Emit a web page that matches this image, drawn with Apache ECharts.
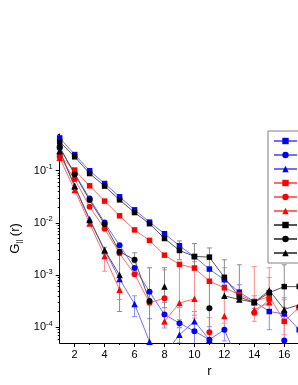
<!DOCTYPE html>
<html><head><meta charset="utf-8">
<script src="https://cdn.jsdelivr.net/npm/echarts@6/dist/echarts.min.js"></script>
<style>html,body{margin:0;padding:0;background:#fff}#c{width:298px;height:385px}</style>
</head><body><div id="c"></div>
<script>
// ---- data ----
const rVals = [1,2,3,4,5,6,7,8,9,10,11,12,13,14,15,16,17];
const xTickVals = [2,4,6,8,10,12,14,16,18,20];
const xMinorVals = [3,5,7,9,11,13,15,17,19];
const yTickVals = [1e-4,1e-3,1e-2,1e-1];
const yMinorVals = [6e-5,7e-5,8e-5,9e-5,2e-4,3e-4,4e-4,5e-4,6e-4,7e-4,8e-4,9e-4,2e-3,3e-3,4e-3,5e-3,6e-3,7e-3,8e-3,9e-3,2e-2,3e-2,4e-2,5e-2,6e-2,7e-2,8e-2,9e-2,0.2,0.3,0.4,0.5];
const seriesNames = ['A, L=16','A, L=32','A, L=64','B, L=16','B, L=32','B, L=64','C, L=16','C, L=32','C, L=64'];

const blueSq = [0.42,0.202,0.099,0.0564,0.0314,0.0177,0.0103,0.00616,0.00363,0.00224,0.0013,8.1e-4,4.7e-4,3.1e-4,2.0e-4,1.8e-4,9e-5];
const blueCi = [0.27,0.088,0.0292,0.0101,0.0037,0.00136,4.8e-4,1.75e-4,1.2e-4,8.4e-5,5.8e-5,9.0e-5,2e-5,2e-5,2e-5,5.6e-5,null];
const blueTr = [0.24,0.0488,0.0118,0.00294,8.4e-4,2.8e-4,5.3e-5,3e-5,7.2e-5,1.3e-4,5.8e-5,2e-5,null,null,null,null,null];
const redSq = [0.195,0.102,0.051,0.026,0.0136,0.0073,0.0046,0.0024,0.0016,0.00136,7.6e-4,5.7e-4,4.2e-4,3.1e-4,3.9e-4,1.3e-4,2.4e-4];
const redCi = [0.183,0.0685,0.0202,0.0077,0.0026,0.00104,2.95e-4,3.6e-4,null,null,8.0e-5,null,null,1.9e-4,3.4e-4,null,null];
const redTr = [0.175,0.0422,0.0097,0.0023,5.2e-4,null,null,1.3e-4,2.9e-4,3.5e-4,null,1.65e-4,null,2.15e-4,3.0e-4,null,null];
const blackSq = [0.354,0.183,0.0876,0.0503,0.0275,0.0157,0.0096,0.005,0.00295,0.00227,0.0022,9.0e-4,3.8e-4,3.0e-4,4.6e-4,6.0e-4,6.0e-4];
const blackCi = [0.284,0.084,0.0272,0.0094,0.0028,0.00196,3.2e-4,null,null,null,2.3e-4,null,null,null,null,null,null];
const blackTr = [0.235,0.051,0.0113,0.003,1.0e-3,null,null,6.0e-4,null,null,null,4.0e-4,3.4e-4,3.0e-4,5.1e-4,2.2e-4,2.7e-4];

// error bar ends (upper / lower), null = no bar
const N = null;
const blueSqHi = [N,N,N,N,N,N,N,N,N,N,N,1.0e-3,6.5e-4,4.0e-4,3.1e-4,2.4e-4,N];
const blueSqLo = [N,N,N,N,N,N,N,N,N,N,N,6.5e-4,3.1e-4,2.3e-4,9e-5,1.3e-4,N];
const blueCiHi = [N,N,N,N,N,N,N,3.0e-4,2.37e-4,1.7e-4,1.03e-4,1.5e-4,N,N,N,3.68e-4,N];
const blueCiLo = [N,N,N,N,N,N,N,9.7e-5,9.8e-5,1e-5,1e-5,5.5e-5,N,N,N,1e-5,N];
const blueTrHi = [N,N,N,N,N,4.0e-4,1.46e-4,N,1.0e-4,2.0e-4,N,N,N,N,N,N,N];
const blueTrLo = [N,N,N,N,N,1.6e-4,1e-5,N,5e-5,8e-5,N,N,N,N,N,N,N];
const redSqHi = [N,N,N,N,N,N,N,N,N,N,N,N,N,1.45e-3,9e-4,3.37e-4,N];
const redSqLo = [N,N,N,N,N,N,N,N,N,N,N,N,N,2.0e-4,2.7e-4,7.2e-5,N];
const redCiHi = [N,N,N,N,N,N,N,1.26e-3,N,N,1.53e-4,N,N,2.8e-4,N,N,N];
const redCiLo = [N,N,N,N,N,N,N,1.12e-4,N,N,1e-5,N,N,1.3e-4,N,N,N];
const redTrHi = [N,N,N,2.67e-3,7.4e-4,N,N,N,1.57e-3,1.8e-3,N,1.38e-3,N,N,1.38e-3,N,N];
const redTrLo = [N,N,N,1.18e-3,3.4e-4,N,N,N,1.4e-4,1.5e-4,N,1.2e-4,N,N,2.0e-4,N,N];
const blackSqHi = [N,N,N,N,N,N,N,N,4.5e-3,4.0e-3,3.3e-3,1.96e-3,1.57e-3,N,N,1.57e-3,N];
const blackSqLo = [N,N,N,N,N,N,N,N,1.96e-3,1.26e-3,1.4e-3,3.68e-4,3.1e-4,N,N,2.0e-4,N];
const blackCiHi = [N,N,N,N,N,2.67e-3,1.38e-3,N,N,N,1.38e-3,N,N,N,N,N,N];
const blackCiLo = [N,N,N,N,N,1.72e-3,1e-5,N,N,N,1e-5,N,N,N,N,N,N];
const blackTrHi = [N,N,N,3.4e-3,2.67e-3,N,N,1.38e-3,N,N,N,N,N,N,N,N,N];
const blackTrLo = [N,N,N,2.5e-3,2.0e-4,N,N,2.37e-4,N,N,N,N,N,N,N,N,N];

// ---- chart ----
const FONT = 'Liberation Sans, Arial, sans-serif';
const Y_MIN = 5e-5, Y_MAX = 0.5;
const defs = [
  {v: blueSq, hi: blueSqHi, lo: blueSqLo, sym: 'rect', size: 5.5, mc: '#0000ff', lc: '#7070ff', ec: '#8c8cff'},
  {v: blueCi, hi: blueCiHi, lo: blueCiLo, sym: 'circle', size: 6, mc: '#0000ff', lc: '#7070ff', ec: '#8c8cff'},
  {v: blueTr, hi: blueTrHi, lo: blueTrLo, sym: 'triangle', size: 6.5, mc: '#0000ff', lc: '#7070ff', ec: '#8c8cff'},
  {v: redSq, hi: redSqHi, lo: redSqLo, sym: 'rect', size: 5.5, mc: '#ff0000', lc: '#ff6a6a', ec: '#ff8c8c'},
  {v: redCi, hi: redCiHi, lo: redCiLo, sym: 'circle', size: 6, mc: '#ff0000', lc: '#ff6a6a', ec: '#ff8c8c'},
  {v: redTr, hi: redTrHi, lo: redTrLo, sym: 'triangle', size: 6.5, mc: '#ff0000', lc: '#ff6a6a', ec: '#ff8c8c'},
  {v: blackSq, hi: blackSqHi, lo: blackSqLo, sym: 'rect', size: 5.5, mc: '#000000', lc: '#555555', ec: '#8c8c8c'},
  {v: blackCi, hi: blackCiHi, lo: blackCiLo, sym: 'circle', size: 6, mc: '#000000', lc: '#555555', ec: '#8c8c8c'},
  {v: blackTr, hi: blackTrHi, lo: blackTrLo, sym: 'triangle', size: 6.5, mc: '#000000', lc: '#555555', ec: '#8c8c8c'}
];

function errRenderer(color) {
  return function (params, api) {
    const x = api.value(0), lo = api.value(1), hi = api.value(2);
    const loC = Math.max(lo, Y_MIN), hiC = Math.min(hi, Y_MAX);
    const pLo = api.coord([x, loC]), pHi = api.coord([x, hiC]);
    const w = 2.5;
    const st = {stroke: color, lineWidth: 1};
    const ch = [{type: 'line', shape: {x1: pLo[0], y1: pLo[1], x2: pHi[0], y2: pHi[1]}, style: st}];
    if (hi <= Y_MAX) ch.push({type: 'line', shape: {x1: pHi[0]-w, y1: pHi[1], x2: pHi[0]+w, y2: pHi[1]}, style: st});
    if (lo >= Y_MIN) ch.push({type: 'line', shape: {x1: pLo[0]-w, y1: pLo[1], x2: pLo[0]+w, y2: pLo[1]}, style: st});
    return {type: 'group', children: ch};
  };
}

const series = [];
defs.forEach(function (d, i) {
  const errData = [];
  rVals.forEach(function (r, k) {
    if (d.hi[k] != null && d.lo[k] != null) errData.push([r, d.lo[k], d.hi[k]]);
  });
  series.push({
    type: 'custom', name: seriesNames[i] + ' err', renderItem: errRenderer(d.ec),
    data: errData, clip: true, z: 1, silent: true,
    encode: {x: 0, y: [1, 2]}
  });
});
defs.forEach(function (d, i) {
  series.push({
    type: 'line', name: seriesNames[i],
    data: rVals.map(function (r, k) { return [r, d.v[k] == null ? '-' : d.v[k]]; }),
    symbol: d.sym, symbolSize: d.size, showAllSymbol: true,
    itemStyle: {color: d.mc}, lineStyle: {color: d.lc, width: 1},
    clip: true, z: 3, animation: false
  });
});

const chart = echarts.init(document.getElementById('c'), null, {renderer: 'canvas'});
chart.setOption({
  animation: false,
  backgroundColor: '#fff',
  textStyle: {fontFamily: FONT},
  grid: {left: 59.7, top: 134, width: 299.4, height: 209, containLabel: false, outerBoundsMode: 'none'},
  legend: {
    data: seriesNames, orient: 'vertical', left: 268, top: 131,
    itemWidth: 23, itemHeight: 8, itemGap: 4, padding: [5, 5, 5, 5],
    borderColor: '#808080', borderWidth: 1, backgroundColor: '#fff',
    selectedMode: false, textStyle: {fontSize: 10, fontFamily: FONT, color: '#000'}
  },
  xAxis: [{
    type: 'value', min: 1, max: 21, position: 'bottom',
    axisLine: {show: true, lineStyle: {color: '#000', width: 1}},
    axisTick: {show: true, length: 4, customValues: xTickVals, lineStyle: {color: '#000'}},
    axisLabel: {customValues: xTickVals, margin: 6, fontSize: 11, color: '#000', fontFamily: FONT},
    splitLine: {show: false},
    name: 'r', nameLocation: 'middle', nameGap: 17,
    nameTextStyle: {fontSize: 13, color: '#000', fontFamily: FONT}
  }, {
    type: 'value', min: 1, max: 21, position: 'bottom',
    axisLine: {show: false},
    axisTick: {show: true, length: 2, customValues: xMinorVals, lineStyle: {color: '#000'}},
    axisLabel: {show: false}, splitLine: {show: false}
  }],
  yAxis: [{
    type: 'log', logBase: 10, min: Y_MIN, max: Y_MAX, position: 'left',
    axisLine: {show: true, lineStyle: {color: '#000', width: 1}},
    axisTick: {show: true, length: 4, customValues: yTickVals, lineStyle: {color: '#000'}},
    axisLabel: {
      customValues: yTickVals, margin: 7, color: '#000', fontFamily: FONT,
      formatter: function (v) { return '{b|10}{s|' + Math.round(Math.log10(v)) + '}'; },
      rich: {b: {fontSize: 11, fontFamily: FONT, color: '#000'},
             s: {fontSize: 7.5, fontFamily: FONT, color: '#000', padding: [0, 0, 7, 0]}}
    },
    splitLine: {show: false},
    name: '{g|G}{u|||} {g|(r)}', nameLocation: 'middle', nameGap: 29,
    nameTextStyle: {
      color: '#000', fontFamily: FONT,
      rich: {g: {fontSize: 13, fontFamily: FONT, color: '#000'},
             u: {fontSize: 8, fontFamily: FONT, color: '#000', padding: [7, 0, 0, 0]}}
    }
  }, {
    type: 'log', logBase: 10, min: Y_MIN, max: Y_MAX, position: 'left', offset: 0,
    axisLine: {show: false},
    axisTick: {show: true, length: 2, customValues: yMinorVals, lineStyle: {color: '#000'}},
    axisLabel: {show: false}, splitLine: {show: false}
  }],
  series: series
});
</script></body></html>
